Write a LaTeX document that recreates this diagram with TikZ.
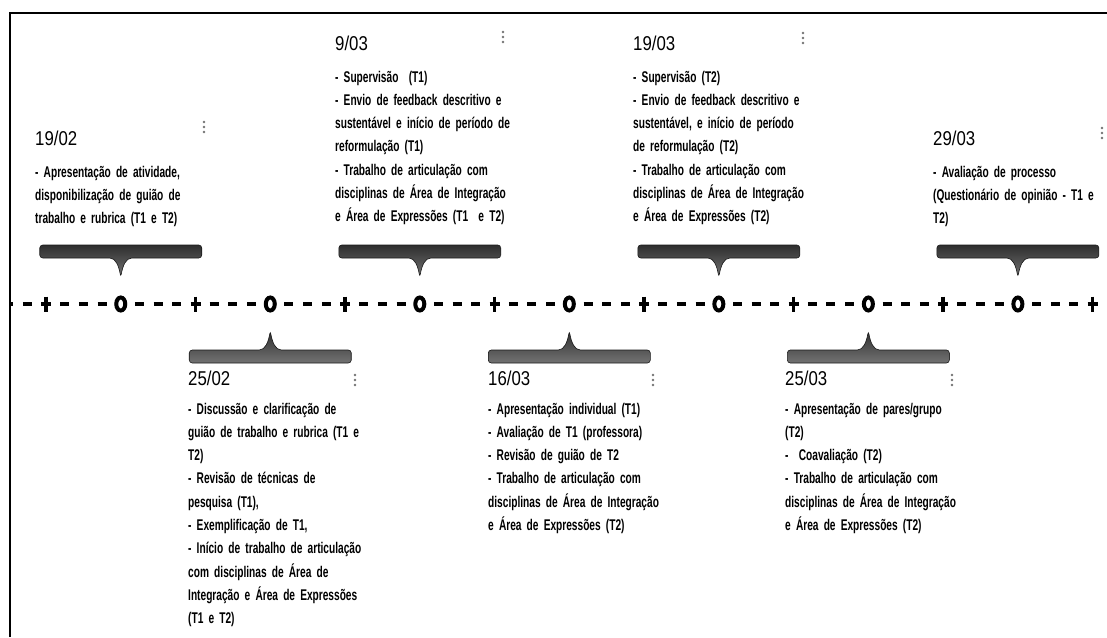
\documentclass[tikz,border=0pt]{standalone}
\usepackage{fontspec}
\setmainfont{Liberation Sans}[FakeStretch=0.79]
\newfontfamily\notefont{Liberation Sans}[FakeStretch=0.655]
\newfontfamily\datefont{Liberation Sans}[FakeStretch=0.84]
\usepackage{tikz}
\usetikzlibrary{positioning}
\usetikzlibrary{calc}
\usetikzlibrary{shapes.geometric}

\tikzset{
	callout/.pic={
		\path[brace, rounded corners=3pt] (-81,-59) -- (81,-59) -- (81,-46) -- (14,-46)
			.. controls (5,-46) and (2,-38) .. (0,-27)
			.. controls (-2,-38) and (-5,-46) .. (-14,-46) -- (-81,-46) -- cycle;
	}
}

\begin{document}
\begin{tikzpicture}[
		x=1pt, y=-1pt,
		dashmark/.style={line width=3.8pt},
		tick/.style={line width=3.4pt},
		ring/.style={ellipse, draw, line width=4pt, minimum width=9pt, minimum height=13pt, inner sep=0pt},
		date/.style={font=\datefont\fontsize{20}{22}\selectfont, inner sep=0pt, anchor=base west},
		note/.style={font=\notefont\bfseries\fontsize{15.5}{23.3}\selectfont, inner sep=0pt, text width=200pt, align=left},
		brace/.style={top color=black!82, bottom color=black!55, draw=black!90, line width=0.6pt},
		menu/.style={fill=black!55}
		]
		\useasboundingbox (0,0) rectangle (1107,637);
		\draw[line width=2pt] (10,637) -- (10,13) -- (1107,13);

		% time axis
		\begin{scope}
			\clip (10,0) rectangle (1107,637);
			\foreach \k in {-2,...,56} {
				\pgfmathsetmacro\px{46+18.69*\k}
				\pgfmathtruncatemacro\r{mod(\k+16,8)}
				\ifnum\r=0
					\draw[tick] (\px-5,304) -- (\px+5,304) (\px,296.5) -- (\px,311.5);
				\else\ifnum\r=4\else
					\draw[dashmark] (\px-4.5,304) -- (\px+4.5,304);
				\fi\fi
			}
		\end{scope}
		\foreach \j in {1,...,7}
			\node[ring] (m\j) at ({46+18.69*(8*\j-4)},304) {};

		% callouts
		\foreach \j in {1,3,5,7}
			\pic at (m\j) {callout};
		\foreach \j in {2,4,6}
			\pic[yscale=-1] at (m\j) {callout};

		% dates
		\node[date] (t1) at (35,145) {19/02};
		\node[date] (t3) at (335,50) {9/03};
		\node[date] (t5) at (633,50) {19/03};
		\node[date] (t7) at (933,145) {29/03};
		\node[date] (t2) at (188,385) {25/02};
		\node[date] (t4) at (488,385) {16/03};
		\node[date] (t6) at (785,385) {25/03};

		% menu dots
		\foreach \mx/\my in {204/127, 503/37, 803/38, 1102/133, 355/380, 653/380, 952/380}
			\foreach \d in {-5,0,5}
				\fill[menu] (\mx,\my+\d) circle (1.3);

		% notes
		\node[note, below=32pt of t1.base west, anchor=base west] (n1) {- Apresentação de atividade,\\ disponibilização de guião de\\ trabalho e rubrica (T1 e T2)};
		\node[note, below=32pt of t3.base west, anchor=base west] (n3) {- Supervisão~ (T1)\\ - Envio de feedback descritivo e\\ sustentável e início de período de\\ reformulação (T1)\\ - Trabalho de articulação com\\ disciplinas de Área de Integração\\ e Área de Expressões (T1~ e T2)};
		\node[note, below=32pt of t5.base west, anchor=base west] (n5) {- Supervisão (T2)\\ - Envio de feedback descritivo e\\ sustentável, e início de período\\ de reformulação (T2)\\ - Trabalho de articulação com\\ disciplinas de Área de Integração\\ e Área de Expressões (T2)};
		\node[note, below=32pt of t7.base west, anchor=base west] (n7) {- Avaliação de processo\\ (Questionário de opinião - T1 e\\ T2)};
		\node[note, below=29pt of t2.base west, anchor=base west] (n2) {- Discussão e clarificação de\\ guião de trabalho e rubrica (T1 e\\ T2)\\ - Revisão de técnicas de\\ pesquisa (T1),\\ - Exemplificação de T1,\\ - Início de trabalho de articulação\\ com disciplinas de Área de\\ Integração e Área de Expressões\\ (T1 e T2)};
		\node[note, below=29pt of t4.base west, anchor=base west] (n4) {- Apresentação individual (T1)\\ - Avaliação de T1 (professora)\\ - Revisão de guião de T2\\ - Trabalho de articulação com\\ disciplinas de Área de Integração\\ e Área de Expressões (T2)};
		\node[note, below=29pt of t6.base west, anchor=base west] (n6) {- Apresentação de pares/grupo\\ (T2)\\ -~ Coavaliação (T2)\\ - Trabalho de articulação com\\ disciplinas de Área de Integração\\ e Área de Expressões (T2)};
	\end{tikzpicture}
\end{document}
